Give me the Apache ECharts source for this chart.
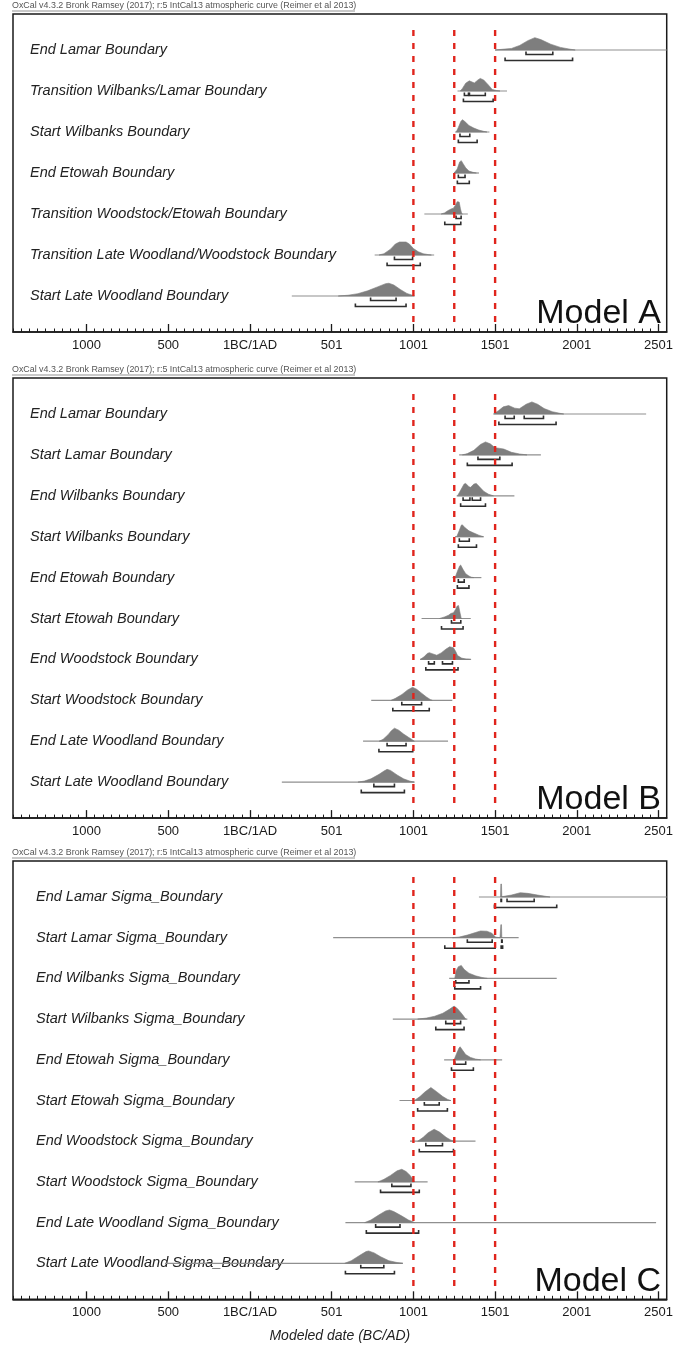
<!DOCTYPE html>
<html>
<head>
<meta charset="utf-8">
<title>OxCal boundary models A-C</title>
<script src="https://cdn.jsdelivr.net/npm/echarts@6/dist/echarts.min.js"></script>
<style>
    html, body { margin: 0; padding: 0; background: #fff; }
    #oxcal_models { width: 676px; height: 1348px; }
</style>
</head>
<body>
<div id="oxcal_models"></div>
<script>

// Data (years BC/AD, negative = BC; curve heights are relative 0..1)
// ------------------------------

var headerText = 'OxCal v4.3.2 Bronk Ramsey (2017); r:5 IntCal13 atmospheric curve (Reimer et al 2013)';
var majorTicks = [-1000, -500, 0, 500, 1000, 1500, 2000, 2500];
var refLines = [1000, 1250, 1500];

// Model A
var modelANames = [
    'End Lamar Boundary',
    'Transition Wilbanks/Lamar Boundary',
    'Start Wilbanks Boundary',
    'End Etowah Boundary',
    'Transition Woodstock/Etowah Boundary',
    'Transition Late Woodland/Woodstock Boundary',
    'Start Late Woodland Boundary'
];
var modelACurves = [
    [[1500,0],[1540,0.05],[1600,0.12],[1650,0.35],[1700,0.72],[1743,0.95],[1780,0.8],[1840,0.45],[1900,0.2],[1960,0.06],[1990,0]],
    [[1287,0],[1300,0.2],[1320,0.6],[1342,0.78],[1373,0.62],[1395,0.85],[1409,0.97],[1430,0.85],[1460,0.45],[1482,0.12],[1510,0.03],[1530,0]],
    [[1262,0],[1275,0.35],[1290,0.8],[1300,0.95],[1315,0.8],[1340,0.5],[1370,0.3],[1400,0.15],[1430,0.05],[1450,0]],
    [[1249,0],[1268,0.3],[1283,0.85],[1293,0.95],[1305,0.7],[1320,0.4],[1340,0.15],[1365,0.05],[1385,0]],
    [[1170,0],[1190,0.08],[1210,0.25],[1230,0.38],[1245,0.45],[1258,0.7],[1268,0.95],[1280,0.92],[1288,0.4],[1295,0.05],[1300,0]],
    [[790,0],[820,0.1],[860,0.45],[890,0.85],[915,1],[955,1],[975,0.85],[1000,0.5],[1030,0.25],[1060,0.1],[1095,0.02],[1110,0]],
    [[540,0],[600,0.06],[660,0.18],[720,0.4],[780,0.7],[830,0.95],[850,0.98],[880,0.85],[920,0.5],[960,0.2],[1000,0.03],[1006,0]]
];
var modelATails = [[1500,2550],[1270,1573],[1255,1465],[1249,1401],[1067,1333],[763,1127],[256,1006]];
var modelA68 = [[[1689,1853]],[[1312,1337],[1343,1440]],[[1285,1345]],[[1275,1316]],[[1261,1292]],[[884,995]],[[738,894]]];
var modelA95 = [[[1561,1974]],[[1306,1488]],[[1275,1390]],[[1269,1342]],[[1192,1290]],[[839,1042]],[[645,955]]];

// Model B
var modelBNames = [
    'End Lamar Boundary',
    'Start Lamar Boundary',
    'End Wilbanks Boundary',
    'Start Wilbanks Boundary',
    'End Etowah Boundary',
    'Start Etowah Boundary',
    'End Woodstock Boundary',
    'Start Woodstock Boundary',
    'End Late Woodland Boundary',
    'Start Late Woodland Boundary'
];
var modelBCurves = [
    [[1490,0],[1520,0.25],[1550,0.55],[1583,0.65],[1620,0.45],[1648,0.4],[1690,0.75],[1725,0.93],[1760,0.75],[1800,0.42],[1850,0.18],[1897,0.05],[1920,0]],
    [[1300,0],[1330,0.1],[1370,0.35],[1410,0.8],[1441,1],[1470,0.85],[1500,0.55],[1530,0.5],[1553,0.45],[1600,0.2],[1650,0.07],[1695,0]],
    [[1270,0],[1290,0.45],[1310,0.9],[1320,0.95],[1340,0.7],[1350,0.65],[1370,0.9],[1385,0.95],[1400,0.75],[1430,0.35],[1460,0.12],[1490,0]],
    [[1265,0],[1280,0.45],[1293,0.88],[1299,0.92],[1315,0.7],[1340,0.45],[1370,0.28],[1400,0.12],[1428,0]],
    [[1255,0],[1270,0.5],[1283,0.9],[1289,0.97],[1305,0.6],[1320,0.3],[1340,0.12],[1355,0.03],[1370,0]],
    [[1160,0],[1190,0.12],[1215,0.25],[1229,0.38],[1245,0.45],[1258,0.7],[1267,0.95],[1276,1],[1286,0.4],[1292,0.05],[1296,0]],
    [[1042,0],[1065,0.2],[1085,0.45],[1097,0.52],[1120,0.42],[1143,0.32],[1170,0.5],[1200,0.8],[1222,0.97],[1245,0.9],[1259,0.6],[1270,0.3],[1295,0.1],[1325,0.02],[1345,0]],
    [[864,0],[890,0.15],[930,0.45],[965,0.8],[995,1],[1020,0.85],[1050,0.55],[1080,0.25],[1105,0.05],[1115,0]],
    [[790,0],[815,0.15],[845,0.5],[865,0.8],[884,1],[910,0.85],[940,0.55],[970,0.3],[995,0.1],[1006,0]],
    [[661,0],[700,0.08],[740,0.25],[790,0.6],[820,0.85],[839,0.98],[860,0.9],[900,0.55],[940,0.25],[980,0.07],[1006,0]]
];
var modelBTails = [[1492,2424],[1280,1780],[1265,1618],[1255,1430],[1239,1416],[1050,1351],[1042,1353],[742,1238],[692,1212],[195,1006]];
var modelB68 = [[[1561,1617],[1678,1796]],[[1395,1529]],[[1304,1346],[1360,1411]],[[1281,1342]],[[1275,1311]],[[1233,1290]],[[1093,1128],[1178,1239]],[[929,1050]],[[839,955]],[[758,884]]];
var modelB95 = [[[1523,1873]],[[1330,1604]],[[1289,1441]],[[1275,1386]],[[1269,1340]],[[1172,1304]],[[1076,1273]],[[874,1097]],[[789,996]],[[681,945]]];

// Model C
var modelCNames = [
    'End Lamar Sigma_Boundary',
    'Start Lamar Sigma_Boundary',
    'End Wilbanks Sigma_Boundary',
    'Start Wilbanks Sigma_Boundary',
    'End Etowah Sigma_Boundary',
    'Start Etowah Sigma_Boundary',
    'End Woodstock Sigma_Boundary',
    'Start Woodstock Sigma_Boundary',
    'End Late Woodland Sigma_Boundary',
    'Start Late Woodland Sigma_Boundary'
];
var modelCCurves = [
    [[1533,0],[1535,1],[1539,1],[1541,0.03],[1553,0.05],[1600,0.15],[1654,0.33],[1700,0.28],[1760,0.15],[1800,0.07],[1836,0]],
    [[1239,0],[1280,0.05],[1330,0.2],[1380,0.4],[1411,0.52],[1450,0.5],[1480,0.35],[1502,0.05],[1530,0],[1535,1],[1539,1],[1541,0]],
    [[1253,0],[1262,0.6],[1275,0.9],[1293,1],[1310,0.7],[1340,0.4],[1380,0.2],[1420,0.07],[1452,0]],
    [[1026,0],[1080,0.08],[1130,0.22],[1180,0.45],[1220,0.75],[1249,1],[1270,0.8],[1300,0.35],[1320,0]],
    [[1249,0],[1265,0.5],[1279,0.9],[1286,1],[1300,0.75],[1320,0.4],[1350,0.18],[1380,0.06],[1411,0]],
    [[1006,0],[1040,0.3],[1070,0.65],[1107,1],[1140,0.7],[1180,0.3],[1210,0.08],[1229,0]],
    [[1026,0],[1060,0.3],[1090,0.65],[1127,0.92],[1160,0.7],[1200,0.3],[1230,0.08],[1249,0]],
    [[783,0],[820,0.2],[860,0.5],[900,0.85],[929,0.97],[955,0.8],[980,0.5],[1000,0.15],[1006,0]],
    [[702,0],[740,0.2],[790,0.6],[830,0.9],[854,0.97],[880,0.85],[930,0.5],[970,0.2],[1000,0.05],[1006,0]],
    [[580,0],[620,0.2],[670,0.6],[710,0.9],[726,0.95],[760,0.8],[800,0.5],[850,0.2],[900,0.06],[935,0]]
];
var modelCTails = [[1401,2550],[509,1644],[1219,1877],[874,1330],[1188,1543],[915,1229],[979,1380],[641,1087],[584,2485],[-520,935]];
var modelC68 = [[[1536,1539],[1573,1739]],[[1330,1482],[1540,1543]],[[1259,1340]],[[1198,1289]],[[1253,1320]],[[1067,1158]],[[1076,1178]],[[868,985]],[[769,918]],[[678,819]]];
var modelC95 = [[[1496,1877]],[[1192,1500],[1537,1546]],[[1253,1411]],[[1137,1310]],[[1233,1367]],[[1026,1208]],[[1036,1245]],[[799,1036]],[[712,1032]],[[584,884]]];


// Setup module
// ------------------------------

var OxcalModels = function() {

    var FONT = '"Liberation Sans", Arial, sans-serif';
    var AXIS_MIN = -1450;
    var AXIS_MAX = 2550;
    var ROW_MARGIN = 36;     // px between frame and first/last row
    var CURVE_H = 13;        // px height of a density of 1

    // panel layout
    var panels = [
        { title: 'Model A', top: 14,  rowGap: 41,   labelGap: 17, names: modelANames, curves: modelACurves, tails: modelATails, r68: modelA68, r95: modelA95 },
        { title: 'Model B', top: 378, rowGap: 40.9, labelGap: 17, names: modelBNames, curves: modelBCurves, tails: modelBTails, r68: modelB68, r95: modelB95 },
        { title: 'Model C', top: 861, rowGap: 40.7, labelGap: 23, names: modelCNames, curves: modelCCurves, tails: modelCTails, r68: modelC68, r95: modelC95 }
    ];

    // OxCal style BC/AD labels
    var yearLabel = function(v) {
        if (v < 0) return String(-v);
        if (v === 0) return '1BC/1AD';
        return String(v + 1);
    };

    var minorTicks = [];
    for (var t = AXIS_MIN; t <= AXIS_MAX; t += 50) {
        if (majorTicks.indexOf(t) < 0) minorTicks.push(t);
    }

    // bracket for a probability range
    var bracket = function(api, row, range, y) {
        var x0 = api.coord([range[0], row])[0];
        var x1 = api.coord([range[1], row])[0];
        return {
            type: 'polyline',
            shape: { points: [[x0, y - 3], [x0, y], [x1, y], [x1, y - 3]] },
            style: { stroke: '#2e2e2e', lineWidth: 1.6, fill: null }
        };
    };

    var rowRenderer = function(p) {
        return function(params, api) {
            var i = params.dataIndex;
            var base = api.coord([0, i])[1];
            var children = [];

            // thin tail line
            var t0 = api.coord([p.tails[i][0], i])[0];
            var t1 = api.coord([p.tails[i][1], i])[0];
            children.push({
                type: 'line',
                shape: { x1: t0, y1: base, x2: t1, y2: base },
                style: { stroke: '#8f8f8f', lineWidth: 1.2 }
            });

            // posterior density
            var pts = p.curves[i].map(function(d) {
                return [api.coord([d[0], i])[0], base - d[1] * CURVE_H];
            });
            children.push({
                type: 'polygon',
                shape: { points: pts },
                style: { fill: '#7e7e7e', stroke: '#7e7e7e', lineWidth: 0.6 }
            });

            // 68.2% and 95.4% ranges
            p.r68[i].forEach(function(r) { children.push(bracket(api, i, r, base + 4.5)); });
            p.r95[i].forEach(function(r) { children.push(bracket(api, i, r, base + 10.5)); });

            return { type: 'group', children: children };
        };
    };

    var refRenderer = function(p) {
        return function(params, api) {
            var v = api.value(0);
            var top = api.coord([v, 0]);
            var bottom = api.coord([v, p.names.length - 1]);
            return {
                type: 'line',
                shape: { x1: top[0], y1: top[1] - 20, x2: top[0], y2: bottom[1] + 26 },
                style: { stroke: '#e0241c', lineWidth: 2.4, lineDash: [6, 7] }
            };
        };
    };

    var _chart = function() {
        if (typeof echarts == 'undefined') {
            console.warn('Warning - echarts.min.js is not loaded.');
            return;
        }

        var element = document.getElementById('oxcal_models');
        if (!element) return;

        var chart = echarts.init(element, null, { renderer: 'canvas' });

        var grids = [], xAxes = [], yAxes = [], series = [], graphics = [];

        panels.forEach(function(p, g) {
            var n = p.names.length;
            var height = (n - 1) * p.rowGap + 2 * ROW_MARGIN;
            var pad = ROW_MARGIN / p.rowGap;
            var bottom = p.top + height;
            var rows = p.names.map(function(name, i) { return i; });

            grids.push({
                left: 13, right: 6, top: p.top, height: height,
                show: true, borderColor: '#1a1a1a', borderWidth: 1.5
            });

            // Major ticks and labels
            xAxes.push({
                type: 'value', gridIndex: g, position: 'bottom',
                min: AXIS_MIN, max: AXIS_MAX,
                axisLine: { onZero: false, lineStyle: { color: '#1a1a1a', width: 1.5 } },
                axisTick: { inside: true, length: 8, customValues: majorTicks, lineStyle: { color: '#1a1a1a', width: 1.3 } },
                axisLabel: { customValues: majorTicks, formatter: yearLabel, margin: 7, fontSize: 13, color: '#1a1a1a', fontFamily: FONT },
                splitLine: { show: false },
                name: g === 2 ? 'Modeled date (BC/AD)' : '',
                nameLocation: 'middle',
                nameGap: 30,
                nameTextStyle: { fontStyle: 'italic', fontSize: 14, color: '#222', fontFamily: FONT }
            });

            // Minor ticks
            xAxes.push({
                type: 'value', gridIndex: g, position: 'bottom',
                min: AXIS_MIN, max: AXIS_MAX,
                axisLine: { show: false, onZero: false },
                axisTick: { inside: true, length: 3.5, customValues: minorTicks, lineStyle: { color: '#1a1a1a', width: 1 } },
                axisLabel: { show: false },
                splitLine: { show: false }
            });

            // Rows with boundary names
            yAxes.push({
                type: 'value', gridIndex: g, inverse: true,
                min: -pad, max: n - 1 + pad,
                axisLine: { show: false, onZero: false },
                axisTick: { show: false },
                splitLine: { show: false },
                axisLabel: {
                    inside: true,
                    margin: p.labelGap,
                    customValues: rows,
                    formatter: function(v) { return p.names[Math.round(v)]; },
                    fontStyle: 'italic', fontSize: 14.5, color: '#222', fontFamily: FONT
                }
            });

            series.push({
                type: 'custom',
                name: p.title,
                xAxisIndex: 2 * g, yAxisIndex: g,
                renderItem: rowRenderer(p),
                data: rows.map(function(i) { return [p.tails[i][0], i]; }),
                z: 2
            });

            series.push({
                type: 'custom',
                xAxisIndex: 2 * g, yAxisIndex: g,
                renderItem: refRenderer(p),
                data: refLines.map(function(v) { return [v, 0]; }),
                z: 5
            });

            // Header and model name
            graphics.push({
                type: 'text', x: 12, y: p.top - 8,
                style: { text: headerText, font: '8.9px ' + FONT, fill: '#555', verticalAlign: 'middle' }
            });
            graphics.push({
                type: 'line',
                shape: { x1: 12, y1: p.top - 3, x2: 355, y2: p.top - 3 },
                style: { stroke: '#777', lineWidth: 0.8 }
            });
            graphics.push({
                type: 'text', x: 661, y: bottom - 1,
                style: { text: p.title, font: '34px ' + FONT, fill: '#111', align: 'right', verticalAlign: 'bottom' },
                z: 10
            });
        });

        chart.setOption({
            animation: false,
            backgroundColor: '#fff',
            textStyle: { fontFamily: FONT },
            grid: grids,
            xAxis: xAxes,
            yAxis: yAxes,
            series: series,
            graphic: graphics
        });

        window.addEventListener('resize', function() {
            chart.resize();
        });
    };

    return {
        init: function() {
            _chart();
        }
    };
}();


// Initialize module
// ------------------------------

document.addEventListener('DOMContentLoaded', function() {
    OxcalModels.init();
});
</script>
</body>
</html>
